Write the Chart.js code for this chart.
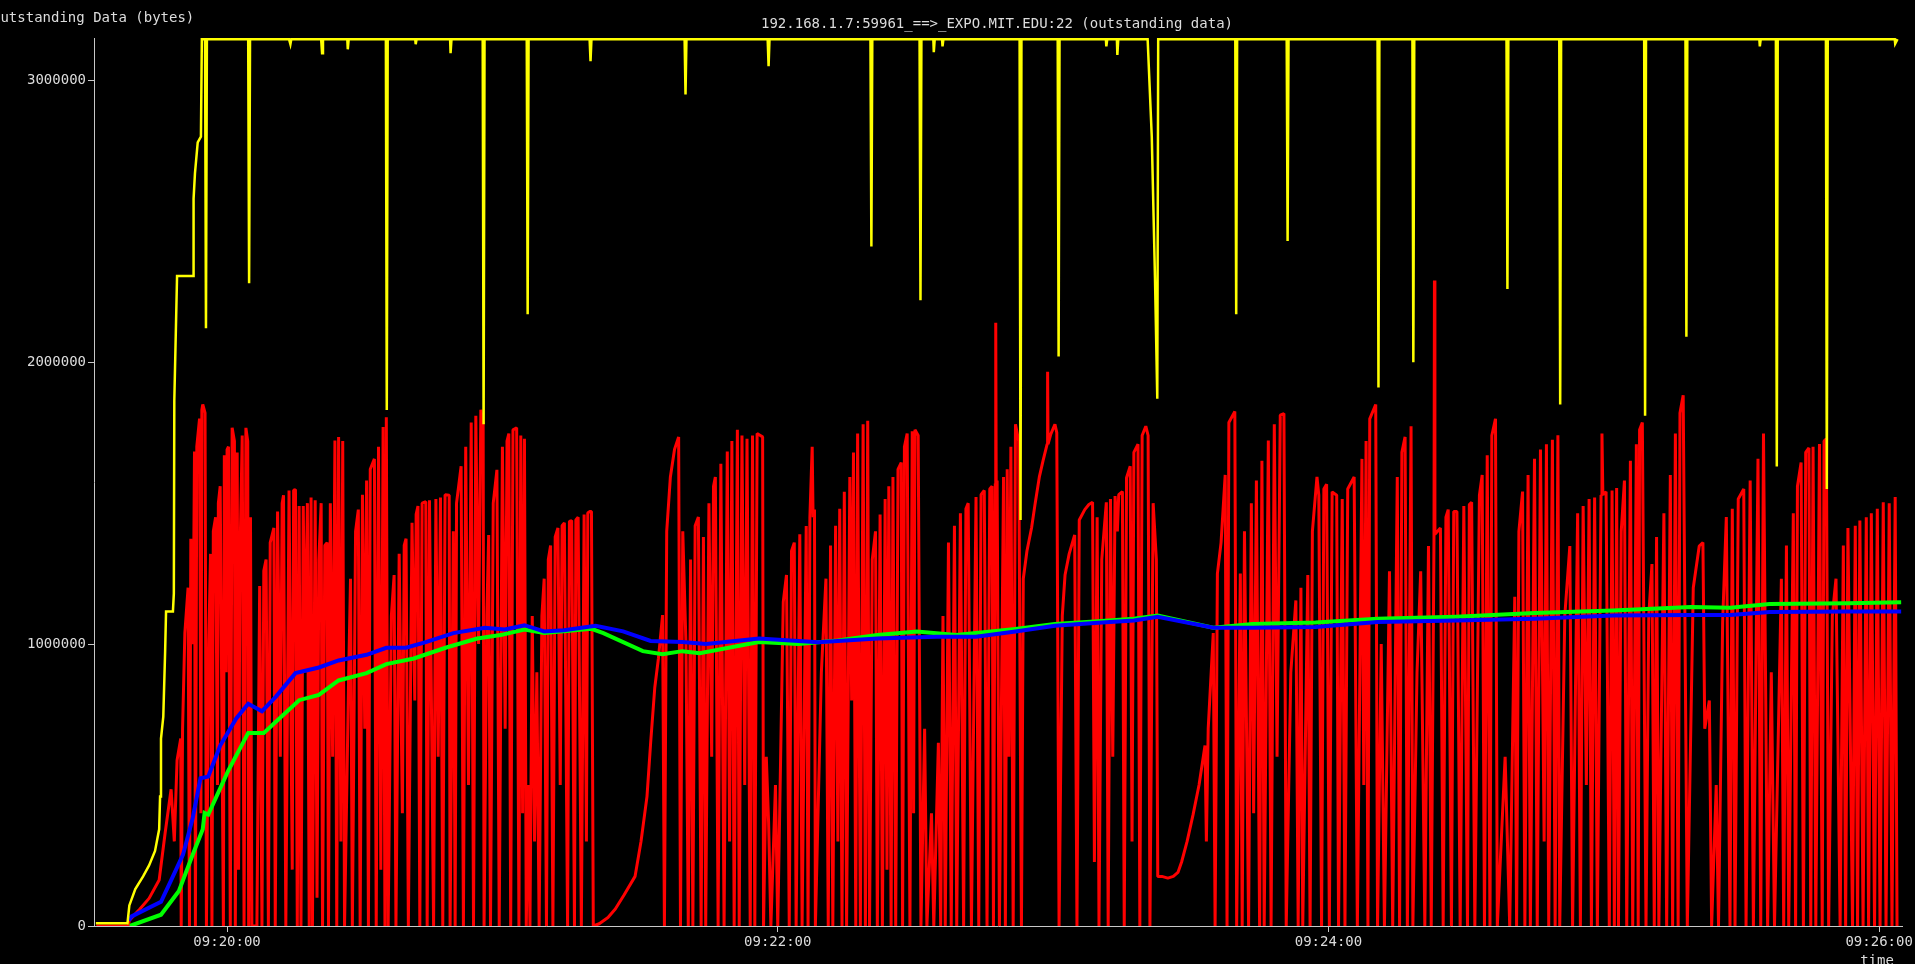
<!DOCTYPE html>
<html>
<head>
<meta charset="utf-8">
<title>outstanding data</title>
<script src="https://cdn.jsdelivr.net/npm/chart.js@4.4.0/dist/chart.umd.min.js"></script>
<style>
  html, body { margin: 0; padding: 0; background: #000; overflow: hidden; }
  canvas { display: block; }
</style>
</head>
<body>
<canvas id="outChart" width="1915" height="964"></canvas>
<script>
// Time is seconds after 09:19:00, values are thousands of bytes
const mainTitle = "192.168.1.7:59961_==>_EXPO.MIT.EDU:22 (outstanding data)";
const yTitle = "Outstanding Data (bytes)";
const xTitle = "time";

const timeTicks = [60, 180, 300, 420];
const byteTicks = [0, 1000000, 2000000, 3000000];

// yellow: advertised window
const winPts = [
    [31.4, 10], [38.3, 10], [38.7, 73], [40.0, 131], [41.7, 176], [43.0, 215], [44.3, 266], [45.2, 343],
    [45.4, 459], [45.6, 665], [46.1, 743], [46.5, 974], [46.7, 1116], [48.2, 1116], [48.4, 1180], [48.5, 1863],
    [49.1, 2306], [52.6, 2306], [52.7, 2580], [53.0, 2670], [53.6, 2780], [54.3, 2800], [54.5, 3146],
    [55.2, 3146], [55.4, 2120], [55.6, 3146], [64.6, 3146], [64.8, 2280], [65.0, 3146],
    [73.5, 3146], [73.8, 3128], [74.0, 3146], [80.5, 3146], [80.7, 3096], [80.9, 3146],
    [86.2, 3146], [86.3, 3110], [86.5, 3146], [94.6, 3146], [94.8, 1830], [95.0, 3146],
    [101.0, 3146], [101.1, 3128], [101.3, 3146], [108.6, 3146], [108.7, 3096], [108.9, 3146],
    [115.7, 3146], [115.9, 1780], [116.1, 3146], [125.3, 3146], [125.5, 2170], [125.7, 3146],
    [139.0, 3146], [139.2, 3068], [139.4, 3146], [159.7, 3146], [159.9, 2950], [160.1, 3146],
    [177.8, 3146], [178.0, 3050], [178.2, 3146], [200.2, 3146], [200.4, 2410], [200.6, 3146],
    [210.9, 3146], [211.1, 2220], [211.3, 3146], [213.9, 3146], [214.0, 3100], [214.2, 3146],
    [215.8, 3146], [215.9, 3120], [216.1, 3146], [232.7, 3146], [232.9, 1440], [233.1, 3146],
    [241.0, 3146], [241.2, 2020], [241.4, 3146], [251.5, 3146], [251.6, 3120], [251.8, 3146],
    [253.9, 3146], [254.0, 3090], [254.2, 3146], [260.6, 3146], [261.5, 2800], [262.2, 2300],
    [262.7, 1870], [262.9, 3146], [279.7, 3146], [279.9, 2170], [280.1, 3146],
    [290.9, 3146], [291.1, 2430], [291.3, 3146], [310.7, 3146], [310.9, 1910], [311.1, 3146],
    [318.3, 3146], [318.5, 2000], [318.7, 3146], [338.8, 3146], [339.0, 2260], [339.2, 3146],
    [350.3, 3146], [350.5, 1850], [350.7, 3146], [368.8, 3146], [369.0, 1810], [369.2, 3146],
    [377.8, 3146], [378.0, 2090], [378.2, 3146], [393.9, 3146], [394.0, 3120], [394.2, 3146],
    [397.5, 3146], [397.7, 1630], [397.9, 3146], [408.4, 3146], [408.6, 1550], [408.8, 3146],
    [423.4, 3146], [423.5, 3130], [424.0, 3146]
];

// red: outstanding data
const outPts = [
    [31.5, 0], [38.5, 0], [38.7, 20], [41.0, 60], [43.0, 98], [45.2, 163], [46.5, 330], [47.8, 485],
    [48.5, 300], [49.1, 588], [49.9, 665], [50.0, 0], [50.3, 700], [50.8, 1040], [51.5, 1200], [51.8, 0],
    [52.1, 1374], [52.6, 1000], [52.9, 1683], [53.1, 0], [53.4, 1700], [54.0, 1800], [54.3, 400], [54.5, 1830],
    [54.7, 1850], [55.2, 1820], [55.5, 0],
    [56.0, 1000], [56.4, 1320], [56.7, 0], [57.0, 1400], [57.5, 1450], [57.9, 500], [58.1, 1500], [58.5, 1560],
    [59.2, 0], [59.4, 1670], [59.8, 900], [60.0, 1690], [60.3, 1700], [60.7, 0], [61.1, 1767], [61.6, 1720],
    [61.8, 0], [62.2, 1680], [62.5, 200], [62.8, 1300], [63.3, 1740], [63.7, 0], [64.1, 1767], [64.5, 1720],
    [64.7, 0], [65.1, 1450], [65.4, 0],
    [66.5, 0], [67.1, 1206], [67.6, 0], [68.0, 1260], [68.5, 1300], [69.0, 0], [69.4, 1360], [70.2, 1412],
    [70.5, 0], [71.0, 1470], [71.6, 600], [72.0, 1500], [72.3, 1528], [72.8, 0], [73.5, 1545], [74.2, 200],
    [74.5, 1546], [74.9, 1548], [75.3, 0], [75.7, 1490], [76.1, 0], [76.6, 1490], [77.0, 900], [77.5, 1500],
    [77.9, 0], [78.3, 1520], [78.6, 0], [79.2, 1510], [79.6, 100], [80.0, 1300], [80.5, 1500], [80.8, 0],
    [81.3, 1350], [81.8, 1360], [82.1, 0], [82.5, 1500], [83.0, 600], [83.5, 1722], [83.9, 0], [84.3, 1735],
    [84.8, 300], [85.2, 1720], [85.6, 0],
    [86.5, 900], [86.9, 1232], [87.3, 0], [88.0, 1400], [88.6, 1477], [89.0, 0], [89.5, 1530], [90.0, 700],
    [90.4, 1580], [90.8, 0], [91.2, 1620], [92.1, 1657], [92.5, 0], [93.0, 1700], [93.5, 200], [94.0, 1770],
    [94.4, 0], [94.7, 1805], [95.1, 0],
    [95.8, 1100], [96.4, 1245], [96.8, 0], [97.5, 1320], [98.2, 400], [98.6, 1350], [99.0, 1374], [99.5, 0],
    [100.3, 1430], [100.9, 800], [101.2, 1460], [101.6, 1490], [102.0, 0], [102.5, 1500], [103.3, 1505],
    [103.6, 0], [104.1, 1510], [105.0, 0], [105.5, 1515], [106.0, 600], [106.5, 1520], [107.0, 0],
    [107.5, 1530], [108.4, 1528], [108.6, 0],
    [109.3, 1400], [109.7, 0], [110.0, 1500], [111.0, 1631], [111.5, 0], [112.0, 1700], [112.6, 500],
    [113.2, 1786], [113.7, 0], [114.2, 1810], [114.8, 1000], [115.3, 1831], [115.8, 1780], [116.0, 0],
    [116.6, 1100], [117.0, 1387], [117.4, 0], [118.0, 1500], [118.8, 1618], [119.3, 0], [120.0, 1700],
    [120.6, 700], [121.0, 1720], [121.4, 1747], [121.8, 0], [122.3, 1760], [123.1, 1767], [123.6, 0],
    [124.0, 1740], [124.4, 400], [124.8, 1728], [125.2, 0],
    [125.6, 500], [126.0, 0], [126.5, 1100], [127.0, 300], [127.5, 900], [128.0, 0],
    [128.6, 1100], [129.1, 1232], [129.6, 0], [130.0, 1300], [130.5, 1350], [131.0, 0], [131.5, 1380],
    [132.1, 1412], [132.6, 500], [133.0, 1420], [133.5, 1430], [134.2, 0], [134.6, 1435], [135.1, 1438],
    [135.7, 0], [136.0, 1440], [136.5, 1450], [137.2, 0], [137.8, 1460], [138.3, 300], [138.6, 1465],
    [139.0, 1470], [139.4, 1470], [139.8, 0],
    [141.1, 8], [143.0, 30], [144.6, 60], [146.5, 110], [148.9, 176], [150.2, 300], [151.5, 459], [152.3, 650],
    [153.2, 846], [154.0, 950], [154.9, 1103], [155.3, 0], [155.8, 1400], [156.6, 1593], [157.5, 1690],
    [158.4, 1735], [158.8, 0],
    [159.3, 1400], [160.0, 1000], [160.5, 0], [161.0, 1300], [161.5, 0], [162.0, 1420], [162.7, 1451], [163.3, 0],
    [163.8, 1380], [164.3, 0], [165.0, 1500], [165.6, 600], [166.0, 1560], [166.4, 1593], [167.0, 0],
    [167.6, 1640], [168.3, 0], [169.0, 1683], [169.5, 300], [170.0, 1720], [170.5, 0], [171.2, 1760],
    [171.6, 0], [172.2, 1740], [172.8, 500], [173.3, 1728], [174.0, 0], [174.5, 1740], [175.0, 0],
    [175.5, 1747], [176.2, 1740], [176.7, 1735], [176.9, 0],
    [177.5, 600], [178.0, 369], [178.5, 0], [179.5, 500], [180.0, 0],
    [181.2, 1150], [181.9, 1245], [182.5, 0], [183.0, 1330], [183.6, 1360], [184.0, 0], [184.8, 1390],
    [185.3, 0], [186.2, 1419], [186.6, 0], [187.0, 1450], [187.5, 1700], [187.7, 1450], [188.0, 1477], [188.2, 0],
    [189.5, 900], [190.5, 1232], [191.0, 0], [191.5, 1350], [192.0, 0], [192.6, 1420], [193.1, 300],
    [193.5, 1480], [194.0, 0], [194.5, 1540], [195.0, 0], [195.7, 1593], [196.1, 800], [196.5, 1680],
    [197.0, 0], [197.4, 1747], [198.0, 0], [198.6, 1780], [199.1, 0], [199.6, 1792], [200.0, 0],
    [200.6, 1300], [201.3, 1400], [201.7, 0], [202.3, 1460], [202.8, 0], [203.4, 1515], [203.8, 200],
    [204.2, 1560], [204.7, 0], [205.1, 1593], [205.7, 0], [206.2, 1620], [206.9, 1644], [207.2, 0],
    [207.6, 1700], [208.2, 1747], [208.8, 0], [209.3, 1755], [209.6, 400], [209.9, 1760], [210.6, 1740], [211.2, 0],
    [212.0, 700], [212.5, 0], [213.5, 400], [214.0, 0], [215.0, 650], [215.5, 0],
    [216.0, 1100], [216.5, 0], [217.2, 1360], [217.8, 0], [218.5, 1420], [219.0, 0], [219.8, 1464],
    [220.5, 0], [221.0, 1480], [221.5, 1500], [222.2, 0], [223.2, 1522], [223.8, 0], [224.3, 1530],
    [225.0, 1545], [225.6, 0], [226.2, 1550], [226.7, 1560], [227.0, 0], [227.4, 1570], [227.5, 2140],
    [227.6, 1575], [227.8, 1580], [228.3, 0], [229.2, 1593], [229.6, 0], [230.0, 1620], [230.4, 600],
    [230.8, 1700], [231.3, 0], [231.8, 1780], [232.5, 1720], [233.1, 0],
    [233.5, 1232], [234.3, 1330], [235.3, 1412], [236.1, 1500], [237.0, 1593], [237.8, 1650], [238.7, 1709],
    [238.8, 1966], [238.9, 1709], [239.5, 1745], [240.4, 1780], [240.8, 1750], [241.3, 0],
    [242.0, 1100], [242.6, 1245], [243.5, 1320], [244.7, 1387], [245.2, 0], [245.7, 1440], [246.9, 1477],
    [247.8, 1495], [248.6, 1503], [249.0, 227], [249.6, 1450], [250.0, 0],
    [250.6, 1300], [251.6, 1503], [252.0, 0], [252.5, 1515], [253.0, 600], [253.5, 1525], [254.0, 1400],
    [254.3, 1530], [255.1, 1541], [255.5, 0], [256.0, 1590], [256.8, 1631], [257.2, 300], [257.6, 1680],
    [258.5, 1709], [258.9, 0], [259.4, 1740], [260.2, 1773], [260.7, 1740], [261.1, 0], [261.8, 1500],
    [262.5, 1300], [262.8, 176],
    [263.7, 176], [265.0, 170], [266.2, 176], [267.2, 190], [268.0, 227], [269.2, 300], [270.5, 395],
    [271.8, 500], [273.1, 640], [273.4, 300], [273.8, 700], [274.9, 1039], [275.3, 0], [275.8, 1250],
    [276.6, 1360], [277.5, 1600], [277.9, 0], [278.3, 1786], [279.6, 1825], [280.0, 0],
    [280.8, 1250], [281.2, 0], [281.7, 1400], [282.6, 0], [283.2, 1500], [283.7, 400], [284.3, 1580],
    [285.0, 0], [285.5, 1650], [286.0, 0], [286.9, 1722], [287.5, 0], [288.2, 1780], [288.8, 600],
    [289.5, 1812], [290.3, 1818], [290.8, 0],
    [291.8, 900], [292.9, 1155], [293.4, 0], [294.0, 1200], [294.4, 0], [295.5, 1245], [296.0, 0],
    [296.5, 1400], [297.5, 1593], [297.9, 1528], [298.5, 0], [299.0, 1550], [299.6, 1567], [300.2, 0],
    [300.8, 1540], [301.8, 1528], [302.2, 0], [303.0, 1515], [303.6, 0], [304.2, 1550], [305.6, 1593],
    [306.3, 0], [307.3, 1657], [307.7, 500], [308.2, 1720], [308.6, 0], [309.0, 1799], [310.3, 1850], [310.7, 0],
    [311.5, 1000], [312.2, 0], [313.3, 1258], [314.0, 0], [315.0, 1593], [315.5, 0], [316.0, 1680],
    [316.7, 1735], [317.2, 0], [318.0, 1773], [318.4, 0],
    [319.3, 900], [320.1, 1258], [321.0, 0], [321.8, 1348], [322.4, 0], [323.0, 1380], [323.1, 2290],
    [323.2, 1390], [324.4, 1412], [325.0, 0], [325.6, 1450], [326.1, 1477], [326.8, 0], [327.3, 1470],
    [328.0, 1470], [328.7, 0], [329.5, 1490], [330.3, 0], [330.7, 1495], [331.2, 1503], [331.9, 0],
    [332.9, 1528], [333.5, 1600], [334.0, 0], [334.6, 1670], [335.2, 0], [335.6, 1740], [336.4, 1799], [336.8, 0],
    [338.5, 600], [339.5, 0], [340.6, 1168], [341.0, 0], [341.5, 1400], [342.3, 1541], [342.8, 0],
    [343.5, 1600], [344.0, 0], [344.9, 1657], [345.5, 0], [346.2, 1690], [347.0, 300], [347.5, 1709],
    [348.0, 0], [348.8, 1725], [349.4, 0], [350.0, 1741], [350.4, 0],
    [351.5, 1100], [352.6, 1348], [353.2, 0], [354.3, 1464], [354.9, 0], [355.5, 1490], [356.2, 500],
    [356.8, 1515], [357.3, 0], [358.0, 1520], [358.6, 0], [359.4, 1528], [359.6, 1747], [359.8, 1530],
    [360.5, 1540], [361.2, 0], [361.8, 1545], [362.3, 0], [362.8, 1554], [363.2, 0],
    [363.8, 1400], [364.5, 1580], [365.0, 0], [365.8, 1650], [366.3, 0], [367.1, 1709], [367.5, 0],
    [367.8, 1760], [368.4, 1786], [369.2, 0],
    [369.8, 1100], [370.5, 1284], [371.0, 0], [371.5, 1380], [372.0, 0], [373.1, 1464], [373.7, 0],
    [374.5, 1600], [375.0, 0], [375.6, 1747], [376.2, 0], [376.6, 1820], [377.3, 1883], [378.2, 0],
    [379.5, 1200], [380.8, 1348], [381.6, 1360], [382.0, 700], [383.0, 800], [383.5, 0], [384.5, 500],
    [385.0, 0], [385.9, 1078], [386.7, 1451], [387.5, 0], [388.0, 1480], [388.6, 0], [389.3, 1515],
    [390.5, 1550], [391.0, 0], [391.9, 1580], [392.6, 0], [393.6, 1657], [394.2, 0], [394.8, 1747], [395.7, 0],
    [396.5, 900], [397.2, 0], [398.7, 1232], [399.2, 0], [399.8, 1350], [400.3, 0], [401.3, 1464],
    [401.8, 0], [402.2, 1560], [403.0, 1644], [403.5, 0], [404.0, 1680], [404.7, 1696], [405.1, 0],
    [405.6, 1700], [406.2, 0], [407.0, 1710], [407.6, 0], [408.0, 1720], [408.5, 1728], [409.0, 0],
    [409.8, 1100], [410.6, 1232], [411.5, 0], [412.2, 1350], [412.7, 0], [413.2, 1412], [414.2, 0],
    [414.8, 1420], [415.3, 0], [415.8, 1438], [416.5, 0], [417.2, 1450], [417.7, 0], [418.3, 1464],
    [419.0, 0], [419.6, 1480], [420.2, 0], [420.9, 1503], [421.5, 0], [422.2, 1500], [422.8, 0],
    [423.5, 1522], [423.9, 0]
];

// blue
const bluePts = [
    [38.6, 20], [39.2, 34], [45.6, 86], [48.2, 176], [50.4, 253], [52.5, 382], [54.2, 524], [55.9, 530],
    [58.5, 640], [62.0, 736], [64.6, 788], [67.6, 762], [70.6, 813], [74.9, 897], [80.0, 917], [84.3, 942],
    [90.4, 962], [94.7, 987], [99.0, 987], [103.3, 1007], [109.3, 1039], [116.2, 1058], [120.5, 1052],
    [124.8, 1067], [129.1, 1045], [133.4, 1049], [140.3, 1065], [146.3, 1045], [152.3, 1011], [159.2, 1007],
    [164.4, 1000], [175.9, 1020], [188.8, 1007], [201.7, 1020], [214.6, 1026], [223.2, 1026], [231.8, 1045],
    [240.4, 1065], [249.0, 1075], [257.6, 1084], [262.8, 1097], [274.9, 1058], [283.5, 1058], [297.2, 1061],
    [310.7, 1078], [327.8, 1084], [344.9, 1090], [362.0, 1101], [379.0, 1103], [387.6, 1103], [396.1, 1114],
    [413.2, 1116], [424.8, 1116]
];

// green
const greenPts = [
    [38.8, 0], [45.6, 40], [49.5, 124], [52.5, 253], [54.7, 343], [55.1, 401], [55.9, 395], [60.2, 549],
    [64.6, 685], [68.0, 685], [71.4, 736], [75.7, 801], [80.0, 820], [84.3, 871], [90.4, 897], [94.7, 929],
    [100.7, 949], [107.6, 987], [114.5, 1020], [119.6, 1032], [124.8, 1052], [129.1, 1039], [139.4, 1054],
    [142.0, 1039], [150.6, 975], [154.9, 964], [159.2, 975], [163.0, 968], [175.9, 1007], [184.5, 1000],
    [193.1, 1013], [201.7, 1032], [210.3, 1045], [218.9, 1032], [231.8, 1054], [240.4, 1071], [249.0, 1080],
    [257.6, 1090], [262.8, 1101], [274.9, 1058], [283.5, 1071], [297.2, 1077], [310.7, 1090], [327.8, 1097],
    [344.9, 1110], [362.0, 1119], [379.0, 1132], [387.6, 1129], [396.1, 1142], [413.2, 1145], [424.8, 1148]
];

const textColor = "#dcdcdc";
const axisColor = "#c8c8c8";
const monoFont = { family: "'DejaVu Sans Mono', monospace", size: 14 };

function toXY(pts) {
    return pts.map(p => ({ x: p[0], y: p[1] * 1000 }));
}

// seconds after 09:19:00 -> hh:mm:ss
function clockLabel(sec) {
    const total = 9 * 3600 + 19 * 60 + sec;
    const h = Math.floor(total / 3600);
    const m = Math.floor((total % 3600) / 60);
    const s = Math.round(total % 60);
    return [h, m, s].map(n => String(n).padStart(2, "0")).join(":");
}

// Extra labels drawn like xplot does
const extraText = {
    id: "extraText",
    afterDraw(chart) {
        const c = chart.ctx;
        c.save();
        c.font = "14px 'DejaVu Sans Mono'";
        c.fillStyle = textColor;
        c.textBaseline = "alphabetic";
        c.textAlign = "left";
        c.fillText(yTitle, -8, 22);
        c.textAlign = "center";
        c.fillText(mainTitle, 997, 28);
        c.fillText(xTitle, 1877, 965);
        c.restore();
    }
};

const ctx = document.getElementById("outChart").getContext("2d");

new Chart(ctx, {
    type: "line",
    data: {
        datasets: [
            { label: "window", data: toXY(winPts), borderColor: "#ffff00", borderWidth: 2.5, order: 0, clip: false },
            { label: "blue", data: toXY(bluePts), borderColor: "#0000ff", borderWidth: 4, order: 1 },
            { label: "green", data: toXY(greenPts), borderColor: "#00ff00", borderWidth: 4, order: 2 },
            { label: "outstanding", data: toXY(outPts), borderColor: "#ff0000", borderWidth: 3, order: 3, borderJoinStyle: "bevel" }
        ]
    },
    options: {
        responsive: false,
        animation: false,
        devicePixelRatio: 1,
        layout: { padding: { top: 38, right: 12, bottom: 0, left: 0 } },
        elements: {
            point: { radius: 0, hoverRadius: 0 },
            line: { tension: 0, fill: false }
        },
        plugins: {
            legend: { display: false },
            tooltip: { enabled: false },
            title: { display: false }
        },
        scales: {
            x: {
                type: "linear",
                min: 31,
                max: 425,
                afterFit(scale) { scale.height = 38; },
                afterBuildTicks(scale) { scale.ticks = timeTicks.map(v => ({ value: v })); },
                ticks: {
                    callback: v => clockLabel(v),
                    color: textColor,
                    font: monoFont,
                    maxRotation: 0,
                    autoSkip: false,
                    padding: 2
                },
                grid: { drawOnChartArea: false, drawTicks: true, tickLength: 6, color: axisColor },
                border: { color: axisColor, width: 1 }
            },
            y: {
                min: 0,
                max: 3150000,
                afterFit(scale) { scale.width = 94; },
                afterBuildTicks(scale) { scale.ticks = byteTicks.map(v => ({ value: v })); },
                ticks: {
                    callback: v => String(v),
                    color: textColor,
                    font: monoFont,
                    padding: 2
                },
                grid: { drawOnChartArea: false, drawTicks: true, tickLength: 6, color: axisColor },
                border: { color: axisColor, width: 1 }
            }
        }
    },
    plugins: [extraText]
});
</script>
</body>
</html>
